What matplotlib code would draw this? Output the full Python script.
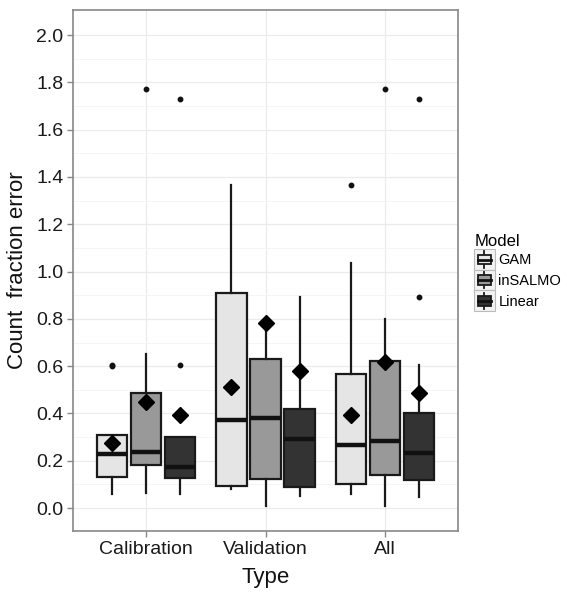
import matplotlib
matplotlib.use("Agg")
import matplotlib.pyplot as plt
from matplotlib.patches import Rectangle, Patch
from matplotlib.lines import Line2D
from matplotlib.legend_handler import HandlerBase
import numpy as np

plt.rcParams['font.family'] = ['Liberation Sans', 'DejaVu Sans']

types = ["Calibration", "Validation", "All"]
models = ["GAM", "inSALMO", "Linear"]
fills = {"GAM": "#e5e5e5", "inSALMO": "#999999", "Linear": "#333333"}

# stats per model, order of types
q1 = {"GAM": [0.130, 0.094, 0.101], "inSALMO": [0.183, 0.124, 0.141], "Linear": [0.127, 0.089, 0.120]}
med = {"GAM": [0.230, 0.371, 0.265], "inSALMO": [0.238, 0.382, 0.283], "Linear": [0.175, 0.292, 0.234]}
q3 = {"GAM": [0.309, 0.910, 0.565], "inSALMO": [0.488, 0.629, 0.622], "Linear": [0.302, 0.417, 0.400]}
whislo = {"GAM": [0.058, 0.080, 0.059], "inSALMO": [0.065, 0.010, 0.010], "Linear": [0.059, 0.051, 0.048]}
whishi = {"GAM": [0.309, 1.366, 1.035], "inSALMO": [0.651, 0.795, 0.798], "Linear": [0.302, 0.894, 0.605]}
means = {"GAM": [0.275, 0.510, 0.392], "inSALMO": [0.450, 0.781, 0.616], "Linear": [0.393, 0.581, 0.488]}
fliers = {"GAM": [[0.605, 0.600], [], [1.366]],
          "inSALMO": [[1.770], [], [1.770]],
          "Linear": [[0.605, 1.731], [], [0.894, 1.731]]}

offsets = {"GAM": -0.285, "inSALMO": 0.0, "Linear": 0.285}
box_w = 0.255
edge = "#1a1a1a"

fig = plt.figure(figsize=(5.67, 5.94), dpi=100)
ax = fig.add_axes([73/567, 1-531/594, (458-73)/567, (531-10)/594])

ax.set_xlim(0.39, 3.61)
ax.set_ylim(-0.097, 2.106)
ax.set_yticks(np.arange(0, 2.01, 0.2))
ax.set_yticks(np.arange(0.1, 2.1, 0.2), minor=True)
ax.set_yticklabels([f"{v:.1f}" for v in np.arange(0, 2.01, 0.2)])
ax.set_xticks([1, 2, 3])
ax.set_xticklabels(types)
ax.grid(True, which='major', color='#ebebeb', lw=0.9)
ax.grid(True, which='minor', axis='y', color='#f4f4f4', lw=0.6)
ax.set_axisbelow(True)
for s in ax.spines.values():
    s.set_color('#888888')
    s.set_linewidth(1.2)
ax.tick_params(axis='both', which='major', color='#888888', length=4, width=1,
               labelsize=14, labelcolor='#1a1a1a', pad=3)
ax.tick_params(axis='y', which='minor', length=0)

lw = 1.6
for m in models:
    stats = []
    for i in range(3):
        stats.append(dict(med=med[m][i], q1=q1[m][i], q3=q3[m][i],
                          whislo=whislo[m][i], whishi=whishi[m][i],
                          mean=means[m][i], fliers=fliers[m][i]))
    pos = [i + 1 + offsets[m] for i in range(3)]
    ax.bxp(stats, positions=pos, widths=box_w, patch_artist=True,
           showmeans=True, showcaps=False, manage_ticks=False,
           boxprops=dict(facecolor=fills[m], edgecolor=edge, linewidth=lw),
           whiskerprops=dict(color=edge, linewidth=lw),
           medianprops=dict(color='#111111', linewidth=3.2, solid_capstyle='butt'),
           meanprops=dict(marker='D', markerfacecolor='black', markeredgecolor='black', markersize=8.5),
           flierprops=dict(marker='o', markerfacecolor='#111111', markeredgecolor='#111111', markersize=3.2))

ax.set_xlabel("Type", fontsize=16, color='#111111', labelpad=7)
ax.set_ylabel("Count  fraction error", fontsize=16, color='#111111', labelpad=6)


class BoxHandler(HandlerBase):
    def create_artists(self, legend, orig_handle, xdescent, ydescent, width, height, fontsize, trans):
        x0, y0 = -xdescent, -ydescent
        bg = Rectangle((x0, y0), width, height, facecolor='#f2f2f2', edgecolor='#bbbbbb', lw=0.8, transform=trans)
        cx = x0 + width / 2
        wh = Line2D([cx, cx], [y0 + 0.1 * height, y0 + 0.9 * height], color=edge, lw=1.3, transform=trans)
        bx = Rectangle((x0 + 0.2 * width, y0 + 0.27 * height), 0.6 * width, 0.46 * height,
                       facecolor=orig_handle.get_facecolor(), edgecolor=edge, lw=1.3, transform=trans)
        md = Line2D([x0 + 0.2 * width, x0 + 0.8 * width], [y0 + 0.5 * height] * 2, color='#111111', lw=2.0, transform=trans)
        return [bg, wh, bx, md]


handles = [Patch(facecolor=fills[m], label=m) for m in models]
leg = fig.legend(handles=handles, labels=models, title="Model",
                 handler_map={Patch: BoxHandler()},
                 loc='upper left', bbox_to_anchor=(464/567, 1-224/594),
                 frameon=False, fontsize=10.5, title_fontsize=12,
                 handlelength=1.4, handleheight=1.8, labelspacing=0.0,
                 handletextpad=0.25, borderpad=0.2, alignment='left')

fig.savefig("out.png", dpi=100, facecolor='white')
